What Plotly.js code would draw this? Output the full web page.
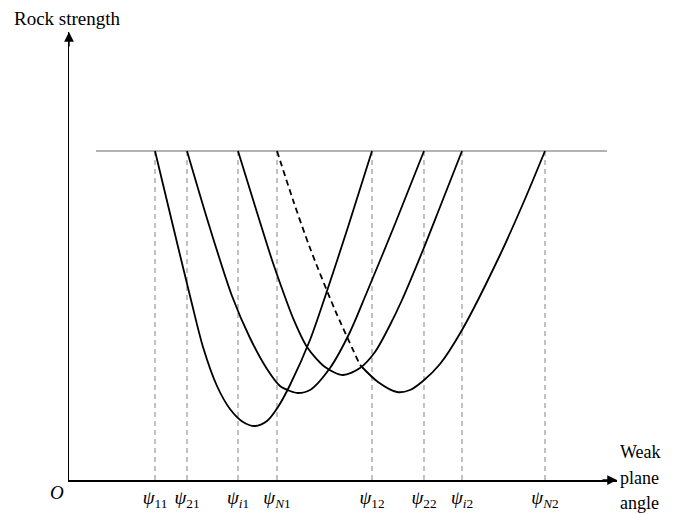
<!DOCTYPE html>
<html>
<head>
<meta charset="utf-8">
<script src="https://cdn.plot.ly/plotly-3.0.1.min.js"></script>
<style>html,body{margin:0;padding:0;background:#fff;}#chart{width:686px;height:514px;}</style>
</head>
<body>
<div id="chart"></div>
<script>
// Weak plane angles (x positions) and their labels
const psiX = [86, 118, 169, 208, 303, 355, 393, 476];
const psiLabels = [
  '<i>ψ</i><sub>11</sub>', '<i>ψ</i><sub>21</sub>', '<i>ψ</i><sub><i>i</i>1</sub>', '<i>ψ</i><sub><i>N</i>1</sub>',
  '<i>ψ</i><sub>12</sub>', '<i>ψ</i><sub>22</sub>', '<i>ψ</i><sub><i>i</i>2</sub>', '<i>ψ</i><sub><i>N</i>2</sub>'
];
// Intact rock strength level
const levelX = [27, 538];
const levelY = [329, 329];
// Strength curves for each weak plane
const c1x = [86, 104, 122, 134, 148, 161, 174, 186, 198, 209, 221, 241, 256, 279, 303];
const c1y = [329, 254, 180, 133, 94, 71, 58, 54, 59, 73, 95, 140, 183, 253, 329];
const c2x = [118, 140, 163, 181, 198, 211, 221, 229, 241, 261, 281, 298, 326, 355];
const c2y = [329, 255, 184, 142, 111, 94, 89, 87, 90, 112, 148, 188, 256, 329];
const c3x = [169, 186, 203, 211, 224, 238, 256, 274, 291, 306, 321, 333, 354, 371, 393];
const c3y = [329, 274, 220, 197, 162, 133, 113, 105, 112, 128, 155, 180, 230, 273, 329];
const c4dashX = [208, 224, 241, 266, 291];
const c4dashY = [329, 280, 232, 170, 115];
const c4x = [291, 309, 328, 341, 354, 371, 393, 431, 456, 476];
const c4y = [115, 98, 88, 90, 99, 116, 150, 225, 281, 329];

const vx = [], vy = [];
psiX.forEach(p => { vx.push(p, p, null); vy.push(0, levelY[0], null); });

const serif = 'Liberation Serif, Times New Roman, serif';
const blackLine = {color: '#000', width: 1.8, shape: 'spline', smoothing: 0.8};

const traces = [
  {x: vx, y: vy, mode: 'lines', line: {color: '#999', width: 1.2, dash: '5px,4px'}, hoverinfo: 'skip'},
  {x: levelX, y: levelY, mode: 'lines', line: {color: '#999', width: 1.5}},
  {x: c1x, y: c1y, mode: 'lines', line: blackLine},
  {x: c2x, y: c2y, mode: 'lines', line: blackLine},
  {x: c3x, y: c3y, mode: 'lines', line: blackLine},
  {x: c4dashX, y: c4dashY, mode: 'lines', line: {color: '#000', width: 1.8, dash: '6px,4px', shape: 'spline', smoothing: 0.8}},
  {x: c4x, y: c4y, mode: 'lines', line: blackLine}
];

const layout = {
  width: 686, height: 514,
  margin: {l: 69, r: 69, t: 32, b: 34},
  paper_bgcolor: '#fff', plot_bgcolor: '#fff',
  showlegend: false,
  xaxis: {
    range: [0, 548], showgrid: false, zeroline: false,
    showline: true, linecolor: '#000', linewidth: 1.5,
    tickvals: psiX, ticktext: psiLabels, ticks: '',
    tickfont: {family: serif, size: 19, color: '#000'}
  },
  yaxis: {
    range: [0, 448], showgrid: false, zeroline: false,
    showline: true, linecolor: '#000', linewidth: 1.5,
    showticklabels: false, ticks: ''
  },
  annotations: [
    {xref: 'paper', yref: 'paper', x: 1, y: 0, ax: -16, ay: 0, text: '', showarrow: true,
     arrowhead: 2, arrowsize: 1.3, arrowwidth: 1.5, arrowcolor: '#000'},
    {xref: 'paper', yref: 'paper', x: 0, y: 1, ax: 0, ay: 16, text: '', showarrow: true,
     arrowhead: 2, arrowsize: 1.3, arrowwidth: 1.5, arrowcolor: '#000'},
    {xref: 'paper', yref: 'paper', x: -0.104, y: 1.031, xanchor: 'left', yanchor: 'middle',
     text: 'Rock strength', showarrow: false, font: {family: serif, size: 19, color: '#000'}},
    {xref: 'paper', yref: 'paper', x: 1.001, y: 0.0625, xanchor: 'left', yanchor: 'middle',
     text: 'Weak', showarrow: false, font: {family: serif, size: 18, color: '#000'}},
    {xref: 'paper', yref: 'paper', x: 1.001, y: 0.0045, xanchor: 'left', yanchor: 'middle',
     text: 'plane', showarrow: false, font: {family: serif, size: 18, color: '#000'}},
    {xref: 'paper', yref: 'paper', x: 1.001, y: -0.051, xanchor: 'left', yanchor: 'middle',
     text: 'angle', showarrow: false, font: {family: serif, size: 18, color: '#000'}},
    {xref: 'paper', yref: 'paper', x: -0.022, y: -0.028, xanchor: 'center', yanchor: 'middle',
     text: '<i>O</i>', showarrow: false, font: {family: serif, size: 19, color: '#000'}}
  ]
};

Plotly.newPlot('chart', traces, layout, {displayModeBar: false, staticPlot: true});
</script>
</body>
</html>
